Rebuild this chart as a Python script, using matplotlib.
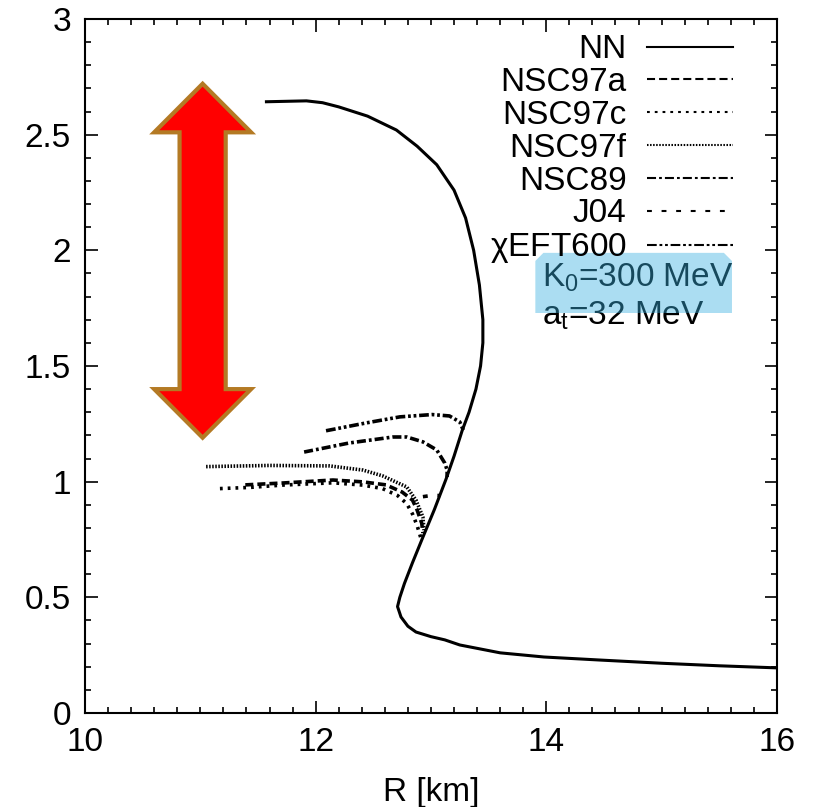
import numpy as np
import matplotlib
matplotlib.use("Agg")
import matplotlib.pyplot as plt
from matplotlib.patches import Polygon

plt.rcParams['font.family'] = ['Liberation Sans', 'DejaVu Sans']
plt.rcParams['mathtext.default'] = 'regular'
plt.rcParams['lines.scale_dashes'] = False

# mass-radius curves: R [km], M [M_sun]
nn_r = [11.56, 11.92, 12.06, 12.20, 12.45, 12.70, 12.88, 13.05, 13.20, 13.30, 13.37, 13.42, 13.45,
        13.45, 13.43, 13.39, 13.33, 13.27, 13.20, 13.13, 13.03, 12.93, 12.84, 12.77, 12.73,
        12.71, 12.74, 12.80, 12.87, 13.00, 13.12, 13.25, 13.60, 13.98, 14.46, 15.00, 15.50, 16.00]
nn_m = [2.642, 2.646, 2.638, 2.62, 2.58, 2.52, 2.45, 2.37, 2.26, 2.14, 2.00, 1.85, 1.70,
        1.60, 1.50, 1.40, 1.30, 1.22, 1.11, 1.01, 0.88, 0.76, 0.65, 0.56, 0.50,
        0.46, 0.415, 0.375, 0.35, 0.33, 0.316, 0.294, 0.26, 0.242, 0.229, 0.215, 0.204, 0.195]

nsc97a_r = [11.39, 11.71, 12.15, 12.41, 12.61, 12.75, 12.84, 12.88, 12.92, 12.93]
nsc97a_m = [0.986, 0.994, 1.007, 0.999, 0.986, 0.955, 0.92, 0.877, 0.82, 0.778]

nsc97c_r = [11.17, 11.43, 11.71, 12.15, 12.41, 12.58, 12.71, 12.79, 12.84, 12.88, 12.91]
nsc97c_m = [0.97, 0.975, 0.985, 0.995, 0.985, 0.97, 0.94, 0.905, 0.86, 0.81, 0.76]

nsc97f_r = [11.05, 11.60, 12.12, 12.41, 12.58, 12.79, 12.87, 12.93, 12.94]
nsc97f_m = [1.065, 1.07, 1.068, 1.05, 1.025, 0.977, 0.92, 0.847, 0.79]

nsc89_r = [11.90, 12.29, 12.67, 12.79, 12.93, 13.05, 13.12, 13.14, 13.14]
nsc89_m = [1.128, 1.167, 1.193, 1.193, 1.172, 1.137, 1.08, 1.05, 1.02]

j04_r = [12.93, 13.00, 13.08]
j04_m = [0.935, 0.94, 0.94]

eft_r = [12.09, 12.44, 12.73, 13.01, 13.16, 13.25, 13.28]
eft_m = [1.22, 1.254, 1.28, 1.29, 1.284, 1.258, 1.223]

labels = ['NN', 'NSC97a', 'NSC97c', 'NSC97f', 'NSC89', 'J04', r'$\chi$EFT600']

# arrow spanning the mass range
arrow_x = 11.02
arrow_lo, arrow_hi = 1.19, 2.72

fs = 24

fig = plt.figure(figsize=(8.15, 8.07), dpi=100)
ax = fig.add_axes([0.1043, 0.1165, 0.849, 0.86])

styles = [
    dict(ls='-'),
    dict(ls=(0, (5.8, 2.9))),
    dict(ls=(0, (2.0, 3.6))),
    dict(ls=(0, (1.1, 1.1))),
    dict(ls=(0, (6.5, 2.2, 2.0, 2.2))),
    dict(ls=(0, (3.5, 7.0))),
    dict(ls=(0, (7.0, 2.0, 2.0, 2.0, 2.0, 2.0))),
]
series = [(nn_r, nn_m), (nsc97a_r, nsc97a_m), (nsc97c_r, nsc97c_m), (nsc97f_r, nsc97f_m),
          (nsc89_r, nsc89_m), (j04_r, j04_m), (eft_r, eft_m)]

handles = []
for i, ((r, m), st, lab) in enumerate(zip(series, styles, labels)):
    ax.plot(r, m, color='black', lw=2.2 if i == 0 else 2.6, solid_capstyle='butt', **st)
    h, = ax.plot([], [], color='black', lw=1.5, label=lab, **st)
    handles.append(h)

ax.legend(handles=handles, loc='upper right', bbox_to_anchor=(0.937, 0.978),
          frameon=False, markerfirst=False, fontsize=fs, handlelength=2.6,
          handletextpad=0.6, labelspacing=0.055, borderpad=0, borderaxespad=0)

# double-headed arrow
hw, sw, hl = 0.42, 0.20, 0.21
arrow = [(arrow_x, arrow_hi), (arrow_x + hw, arrow_hi - hl), (arrow_x + sw, arrow_hi - hl),
         (arrow_x + sw, arrow_lo + hl), (arrow_x + hw, arrow_lo + hl), (arrow_x, arrow_lo),
         (arrow_x - hw, arrow_lo + hl), (arrow_x - sw, arrow_lo + hl),
         (arrow_x - sw, arrow_hi - hl), (arrow_x - hw, arrow_hi - hl)]
ax.add_patch(Polygon(arrow, closed=True, facecolor='#ff0000', edgecolor='#b47a24',
                     lw=3.0, joinstyle='miter', zorder=5))

# parameter box
ax.text(13.96, 1.883, r'K$_0$=300 MeV', fontsize=fs, va='center', ha='left', zorder=3)
ax.text(13.96, 1.716, r'a$_t$=32 MeV', fontsize=fs, va='center', ha='left', zorder=3)
bx0, bx1, by0, by1, cx, cy = 13.905, 15.61, 1.729, 1.989, 0.07, 0.035
box = [(bx0, by0), (bx0, by1 - cy), (bx0 + cx, by1), (bx1 - cx, by1),
       (bx1, by1 - cy), (bx1, by0)]
ax.add_patch(Polygon(box, closed=True, facecolor=(0.216, 0.69, 0.878), alpha=0.42,
                     edgecolor='none', zorder=4))

ax.set_xlim(10, 16)
ax.set_ylim(0, 3)
ax.set_xticks([10, 12, 14, 16])
ax.set_yticks([0, 0.5, 1, 1.5, 2, 2.5, 3])
ax.set_yticklabels(['0', '0.5', '1', '1.5', '2', '2.5', '3'])
ax.set_xticks(np.arange(10, 16.01, 0.2), minor=True)
ax.set_yticks(np.arange(0, 3.01, 0.1), minor=True)
ax.tick_params(which='both', direction='in', top=True, right=True, labelsize=fs, width=1.2)
ax.tick_params(which='major', length=9, pad=10)
ax.tick_params(which='minor', length=4.5)
for s in ax.spines.values():
    s.set_linewidth(1.5)
ax.set_xlabel('R [km]', fontsize=fs, labelpad=14)

fig.savefig('out.png', dpi=100)
